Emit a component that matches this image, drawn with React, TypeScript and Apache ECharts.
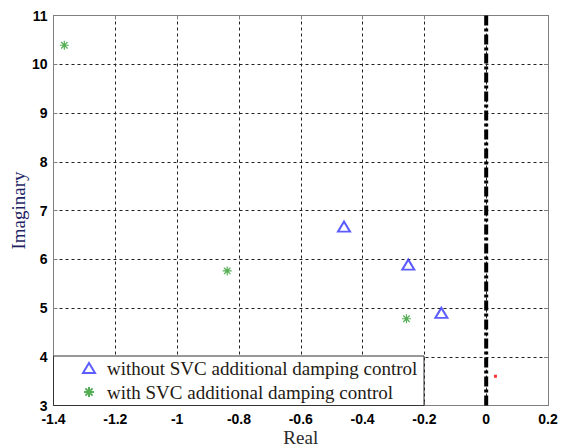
import React, { useEffect, useRef } from "react";
import * as echarts from "echarts";

const withoutSVC: [number, number][] = [
  [-0.46, 6.67],
  [-0.252, 5.89],
  [-0.145, 4.9],
];
const withSVC: [number, number][] = [
  [-1.365, 10.39],
  [-0.838, 5.76],
  [-0.258, 4.78],
];
const redPoint: [number, number][] = [[0.03, 3.6]];
const imagAxisLine: [number, number][] = [
  [0, 3],
  [0, 11],
];
const xTicks = [-1.4, -1.2, -1, -0.8, -0.6, -0.4, -0.2, 0, 0.2];
const yTicks = [3, 4, 5, 6, 7, 8, 9, 10, 11];
const legendNames = [
  "without SVC additional damping control",
  "with SVC additional damping control",
];

const asterisk =
  "path://M0,-5L0,5M-5,0L5,0M-3.6,-3.6L3.6,3.6M-3.6,3.6L3.6,-3.6";

export default function App() {
  const ref = useRef<HTMLDivElement>(null);
  useEffect(() => {
    if (!ref.current) return;
    const chart = echarts.init(ref.current, null, { renderer: "svg" });
    const fmt = (v: number) => String(Math.round(v * 10) / 10);
    const tickLabel = {
      fontFamily: "Liberation Sans",
      fontWeight: "bold" as const,
      fontSize: 14,
      lineHeight: 13,
      color: "#000",
    };
    const axisLineStyle = { lineStyle: { color: "#7f7f7f", width: 1 } };
    const gridLines = {
      show: true,
      lineStyle: { color: "#222", type: [3, 3] as number[], width: 1 },
    };
    chart.setOption({
      animation: false,
      backgroundColor: "#fff",
      grid: {
        left: 53.5,
        top: 15.5,
        width: 494.5,
        height: 390,
        containLabel: false,
        outerBoundsMode: "none",
      },
      xAxis: [
        {
          type: "value",
          min: xTicks[0],
          max: xTicks[xTicks.length - 1],
          interval: 0.2,
          name: "Real",
          nameLocation: "middle",
          nameGap: 22,
          nameMoveOverlap: false,
          nameTextStyle: { fontFamily: "Liberation Serif", fontSize: 19, color: "#2a2a2a" },
          axisLine: { show: true, onZero: false, ...axisLineStyle },
          axisTick: { show: true, inside: true, length: 4, lineStyle: { color: "#7f7f7f" } },
          axisLabel: { ...tickLabel, margin: 7, formatter: fmt },
          splitLine: gridLines,
        },
        {
          type: "value",
          position: "top",
          min: xTicks[0],
          max: xTicks[xTicks.length - 1],
          interval: 0.2,
          axisLine: { show: true, onZero: false, ...axisLineStyle },
          axisTick: { show: true, inside: true, length: 4, lineStyle: { color: "#7f7f7f" } },
          axisLabel: { show: false },
          splitLine: { show: false },
        },
      ],
      yAxis: [
        {
          type: "value",
          min: yTicks[0],
          max: yTicks[yTicks.length - 1],
          interval: 1,
          name: "Imaginary",
          nameLocation: "middle",
          nameGap: 26,
          nameMoveOverlap: false,
          nameTextStyle: { fontFamily: "Liberation Serif", fontSize: 19, color: "#1f1f66" },
          axisLine: { show: true, onZero: false, ...axisLineStyle },
          axisTick: { show: true, inside: true, length: 4, lineStyle: { color: "#7f7f7f" } },
          axisLabel: { ...tickLabel, margin: 6 },
          splitLine: gridLines,
        },
        {
          type: "value",
          position: "right",
          min: yTicks[0],
          max: yTicks[yTicks.length - 1],
          interval: 1,
          axisLine: { show: true, onZero: false, ...axisLineStyle },
          axisTick: { show: true, inside: true, length: 4, lineStyle: { color: "#7f7f7f" } },
          axisLabel: { show: false },
          splitLine: { show: false },
        },
      ],
      legend: {
        data: legendNames,
        orient: "vertical",
        left: 82,
        top: 358,
        itemWidth: 12,
        itemHeight: 10,
        itemGap: 4,
        padding: 0,
        z: 10,
        textStyle: {
          fontFamily: "Liberation Serif",
          fontSize: 19,
          lineHeight: 20,
          color: "#1e1a14",
          padding: [0, 0, 0, 7],
        },
      },
      graphic: [
        {
          type: "rect",
          z: 9,
          shape: { x: 53.5, y: 356, width: 370.5, height: 49.5 },
          style: { fill: "#fff", stroke: "#333", lineWidth: 1 },
        },
      ],
      series: [
        {
          name: legendNames[0],
          type: "scatter",
          data: withoutSVC,
          symbol: "emptyTriangle",
          symbolSize: [12, 10],
          itemStyle: { color: "#3535ff", borderColor: "#3535ff", borderWidth: 1 },
          z: 3,
        },
        {
          name: legendNames[1],
          type: "scatter",
          data: withSVC,
          symbol: asterisk,
          symbolSize: 9,
          itemStyle: { color: "transparent", borderColor: "#2b9a2b", borderWidth: 1.2 },
          z: 3,
        },
        {
          name: "imag",
          type: "line",
          data: imagAxisLine,
          symbol: "none",
          lineStyle: { color: "#000", width: 4, type: [10, 3, 3, 3] },
          z: 4,
        },
        {
          name: "red",
          type: "scatter",
          data: redPoint,
          symbol: "rect",
          symbolSize: 3,
          itemStyle: { color: "#ff0000" },
          z: 3,
        },
      ],
    });
    return () => chart.dispose();
  }, []);
  return (
    <div
      ref={ref}
      style={{ position: "fixed", left: 0, top: 0, width: 561, height: 447 }}
    />
  );
}
